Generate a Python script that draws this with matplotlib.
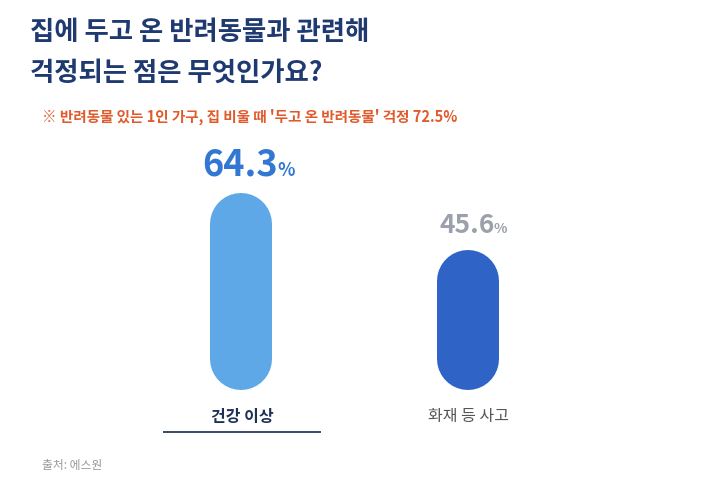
import matplotlib.pyplot as plt

plt.rcParams['font.family'] = ['Noto Sans CJK KR', 'DejaVu Sans']

title_lines = ["집에 두고 온 반려동물과 관련해", "걱정되는 점은 무엇인가요?"]
subtitle = "※ 반려동물 있는 1인 가구, 집 비울 때 '두고 온 반려동물' 걱정 72.5%"
source = "출처: 에스원"
categories = ["건강 이상", "화재 등 사고"]
values = [64.3, 45.6]

bar_colors = ["#5ea8e8", "#2f63c6"]
value_colors = ["#3278d2", "#9ba1aa"]
value_sizes = [26, 19]
pct_sizes = [13, 10]
num_right_px = [37, 27]   # right edge of the number, relative to bar centre

W, H = 710, 488
fig = plt.figure(figsize=(W / 100, H / 100), dpi=100)

# axes: categories sit at x px 241 and 468, y px 390 = 0, 1 unit = 3.065 px
ax_bottom, ax_top = 390, 130
ax = fig.add_axes([0, (H - ax_bottom) / H, 1, (ax_bottom - ax_top) / H])
px_per_cat = 227
x0 = 241
ax.set_xlim(-x0 / px_per_cat, (W - x0) / px_per_cat)
px_per_val = 3.065
ax.set_ylim(0, (ax_bottom - ax_top) / px_per_val)
ax.axis('off')

bar_px = 62
lw_pt = bar_px * 72 / 100
r = (bar_px / 2) / px_per_val
for i, v in enumerate(values):
    ax.plot([i, i], [r, v - r], color=bar_colors[i], lw=lw_pt,
            solid_capstyle='round')
    base = v + 17 / px_per_val
    xr = i + num_right_px[i] / px_per_cat
    ax.text(xr, base, f"{v:.1f}", ha='right', va='baseline',
            fontsize=value_sizes[i], fontweight='bold', color=value_colors[i])
    ax.text(xr - 1 / px_per_cat, base, "%", ha='left', va='baseline',
            fontsize=pct_sizes[i], fontweight='bold', color=value_colors[i])

# category labels
fig.text(242 / W, 1 - 417 / H, categories[0], ha='center', va='center',
         fontsize=11.5, fontweight='bold', color='#1f2f55')
fig.text(468 / W, 1 - 417 / H, categories[1], ha='center', va='center',
         fontsize=11.5, color='#555555')
fig.add_artist(plt.Line2D([164 / W, 320 / W], [1 - 432 / H, 1 - 432 / H],
                          color='#3b4868', lw=1.4))

# titles
fig.text(30 / W, 1 - 32 / H, title_lines[0], ha='left', va='center',
         fontsize=19, fontweight='bold', color='#1f3a70')
fig.text(30 / W, 1 - 73 / H, title_lines[1], ha='left', va='center',
         fontsize=19, fontweight='bold', color='#1f3a70')
fig.text(42 / W, 1 - 117 / H, subtitle, ha='left', va='center',
         fontsize=10.5, fontweight='bold', color='#e05a2b')
fig.text(42 / W, 1 - 466 / H, source, ha='left', va='center',
         fontsize=8.5, color='#999999')

fig.savefig('out.png', dpi=100, facecolor='white')
